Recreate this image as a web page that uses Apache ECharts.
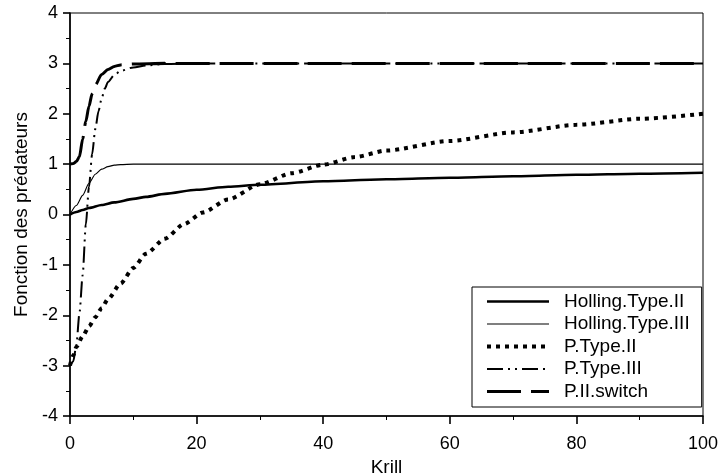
<!DOCTYPE html>
<html>
<head>
<meta charset="utf-8">
<script src="https://cdn.jsdelivr.net/npm/echarts@6/dist/echarts.min.js"></script>
<style>
  html, body { margin: 0; padding: 0; background: #fff; }
  #chart { width: 720px; height: 476px; }
</style>
</head>
<body>
<div id="chart"></div>
<script>
// Predator response functions vs krill density
const seriesNames = ['Holling.Type.II', 'Holling.Type.III', 'P.Type.II', 'P.Type.III', 'P.II.switch'];

const hollingIIKrill = [0, 1, 2, 3, 5, 7, 10, 12, 15, 20, 25, 30, 40, 50, 60, 70, 80, 90, 100];
const hollingIIValues = [0, 0.05, 0.09, 0.13, 0.19, 0.24, 0.31, 0.35, 0.41, 0.49, 0.55, 0.59, 0.66, 0.70, 0.73, 0.76, 0.79, 0.81, 0.83];

const hollingIIIKrill = [0, 1, 2, 3, 4, 5, 6, 7, 8, 10, 15, 100];
const hollingIIIValues = [0, 0.18, 0.38, 0.62, 0.80, 0.90, 0.95, 0.98, 0.99, 1, 1, 1];

const pTypeIIKrill = [0, 0.5, 1, 2, 3, 4, 5, 6, 8, 10, 12, 15, 18, 21, 25, 30, 35, 40, 45, 50, 60, 70, 80, 90, 100];
const pTypeIIValues = [-3, -2.8, -2.63, -2.42, -2.22, -2.04, -1.86, -1.68, -1.37, -1.06, -0.78, -0.48, -0.19, 0.04, 0.3, 0.6, 0.82, 0.99, 1.14, 1.27, 1.46, 1.63, 1.78, 1.9, 2.0];

const pTypeIIIKrill = [0, 0.5, 1, 1.5, 2, 2.5, 3, 3.5, 4, 4.5, 5, 5.5, 6, 7, 8, 10, 12, 15, 20, 100];
const pTypeIIIValues = [-3, -2.92, -2.6, -1.95, -1.2, -0.2, 0.55, 1.2, 1.7, 2.05, 2.3, 2.5, 2.63, 2.77, 2.85, 2.92, 2.96, 2.99, 3, 3];

const switchKrill = [0, 0.5, 1, 1.5, 2, 2.5, 3, 3.5, 4, 5, 6, 7, 8, 10, 15, 100];
const switchValues = [1, 1.01, 1.05, 1.15, 1.5, 1.85, 2.15, 2.4, 2.57, 2.78, 2.88, 2.94, 2.97, 2.99, 3, 3];

const xTicks = [0, 20, 40, 60, 80, 100];
const yTicks = [-4, -3, -2, -1, 0, 1, 2, 3, 4];

const pairs = (xs, ys) => xs.map((x, i) => [x, ys[i]]);

const FONT = "'Liberation Sans', Arial, sans-serif";

const lineStyles = [
  { width: 2.6, type: 'solid' },
  { width: 1.1, type: 'solid' },
  { width: 4, type: [4, 5], cap: 'butt' },
  { width: 2, type: [16, 5, 2, 5, 2, 5], cap: 'butt' },
  { width: 3, type: [34, 10], cap: 'butt' }
];

const dataSets = [
  pairs(hollingIIKrill, hollingIIValues),
  pairs(hollingIIIKrill, hollingIIIValues),
  pairs(pTypeIIKrill, pTypeIIValues),
  pairs(pTypeIIIKrill, pTypeIIIValues),
  pairs(switchKrill, switchValues)
];

const chart = echarts.init(document.getElementById('chart'), null, { renderer: 'canvas' });

chart.setOption({
  backgroundColor: '#fff',
  animation: false,
  textStyle: { fontFamily: FONT, color: '#000' },
  grid: {
    left: 70, right: 17, top: 13, bottom: 60,
    outerBoundsMode: 'none',
    containLabel: false,
    show: true, borderColor: '#000', borderWidth: 1, backgroundColor: 'transparent'
  },
  xAxis: {
    type: 'value',
    min: xTicks[0], max: xTicks[xTicks.length - 1], interval: 20,
    name: 'Krill', nameLocation: 'middle', nameGap: 34,
    nameTextStyle: { fontSize: 19, color: '#000', fontFamily: FONT },
    axisLine: { show: true, onZero: false, lineStyle: { color: '#000', width: 1.6 } },
    axisTick: { show: true, inside: false, length: 8, lineStyle: { color: '#000', width: 1.6 } },
    minorTick: { show: true, splitNumber: 2, length: 4, lineStyle: { color: '#000', width: 1 } },
    axisLabel: { fontSize: 18, color: '#000', margin: 19, fontFamily: FONT },
    splitLine: { show: false }
  },
  yAxis: {
    type: 'value',
    min: yTicks[0], max: yTicks[yTicks.length - 1], interval: 1,
    name: 'Fonction des prédateurs', nameLocation: 'middle', nameGap: 39,
    nameTextStyle: { fontSize: 19, color: '#000', fontFamily: FONT },
    axisLine: { show: true, onZero: false, lineStyle: { color: '#000', width: 1.6 } },
    axisTick: { show: true, inside: false, length: 7, lineStyle: { color: '#000', width: 1.6 } },
    minorTick: { show: true, splitNumber: 2, length: 4, lineStyle: { color: '#000', width: 1 } },
    axisLabel: { fontSize: 18, color: '#000', margin: 12, fontFamily: FONT },
    splitLine: { show: false }
  },
  legend: {
    orient: 'vertical',
    left: 472, top: 287,
    padding: [5, 12, 6, 13],
    itemWidth: 62, itemHeight: 20, itemGap: 3.5,
    borderColor: '#000', borderWidth: 1, backgroundColor: '#fff',
    itemStyle: { opacity: 0 },
    lineStyle: { width: 'inherit', type: 'inherit', color: '#000' },
    textStyle: { fontSize: 19, color: '#000', fontFamily: FONT, padding: [0, 0, 0, 10] },
    data: seriesNames
  },
  series: seriesNames.map((name, i) => ({
    name,
    type: 'line',
    data: dataSets[i],
    showSymbol: false,
    symbol: 'none',
    smooth: 0.25,
    smoothMonotone: 'x',
    color: '#000',
    lineStyle: Object.assign({ color: '#000' }, lineStyles[i]),
    z: 2 + i
  }))
});
</script>
</body>
</html>
